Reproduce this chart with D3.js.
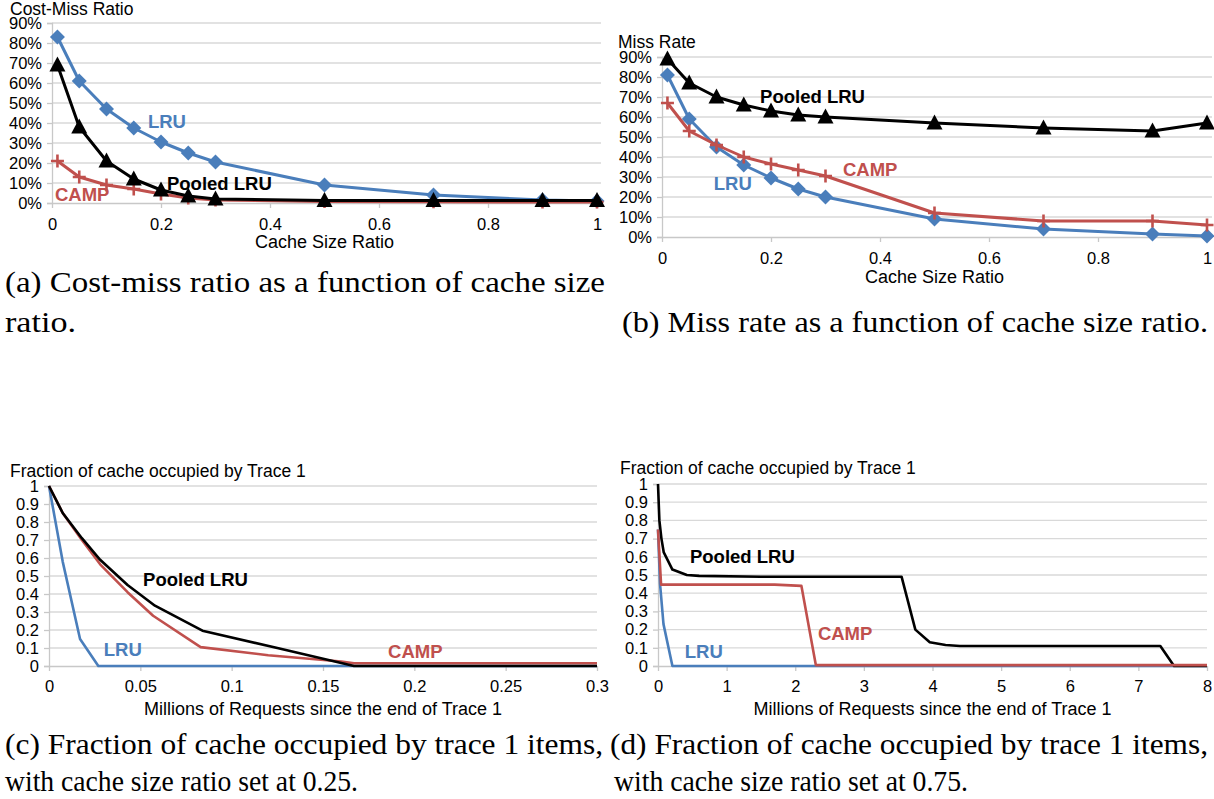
<!DOCTYPE html>
<html>
<head>
<meta charset="utf-8">
<script src="https://cdn.jsdelivr.net/npm/d3@7"></script>
<style>
  body { margin: 0; background: #fff; }
  svg text { font-family: "Liberation Sans", Arial, sans-serif; }
  svg text.cap { font-family: "Liberation Serif", "Times New Roman", serif; font-size: 30px; fill: #000; }
</style>
</head>
<body>
<div id="chart"></div>
<script>
// ---- data ----
var ratioX = [0.01, 0.05, 0.1, 0.15, 0.2, 0.25, 0.3, 0.5, 0.7, 0.9, 1.0];

// (a) cost-miss ratio, %
var costLRU    = [83, 61, 47, 37.5, 30.5, 25, 20.5, 9, 4, 1.5, 1];
var costPooled = [69, 38, 21, 12, 6.5, 3.5, 2, 1.2, 1.2, 1.2, 1.2];
var costCAMP   = [21, 13, 9, 7, 4.5, 2.5, 1.5, 0.8, 0.6, 0.5, 0.5];

// (b) miss rate, %
var missLRU    = [81, 59, 45, 36, 29.5, 24, 20, 9, 4, 1.5, 0.5];
var missPooled = [89, 77, 70, 66, 63, 61, 60, 57, 54.5, 53, 57];
var missCAMP   = [67, 53, 46, 40, 36.5, 33.5, 30.5, 12, 8, 8, 6];

// (c) fraction of cache, cache size ratio 0.25  [millions of requests, fraction]
var fracLRU25    = [[0, 1], [0.0075, 0.58], [0.017, 0.15], [0.027, 0], [0.3, 0]];
var fracPooled25 = [[0, 1], [0.0075, 0.85], [0.018, 0.71], [0.028, 0.59], [0.043, 0.45],
                    [0.058, 0.335], [0.084, 0.196], [0.125, 0.1], [0.167, 0], [0.3, 0]];
var fracCAMP25   = [[0, 1], [0.0075, 0.85], [0.018, 0.7], [0.028, 0.565], [0.043, 0.41],
                    [0.057, 0.279], [0.083, 0.105], [0.12, 0.06], [0.16, 0.025], [0.167, 0.015], [0.3, 0.015]];

// (d) fraction of cache, cache size ratio 0.75
var fracLRU75    = [[0, 0.75], [0.03, 0.45], [0.08, 0.23], [0.21, 0], [8, 0]];
var fracPooled75 = [[0, 1], [0.02, 0.8], [0.05, 0.7], [0.084, 0.624], [0.21, 0.53], [0.42, 0.5],
                    [0.6, 0.495], [1.5, 0.49], [3.55, 0.49], [3.75, 0.2], [3.96, 0.13],
                    [4.19, 0.115], [4.4, 0.11], [7.32, 0.11], [7.52, 0], [8, 0]];
var fracCAMP75   = [[0, 0.75], [0.045, 0.447], [1.7, 0.447], [2.09, 0.44], [2.3, 0.005], [8, 0.005]];

var ratioTicks = [0, 0.2, 0.4, 0.6, 0.8, 1];
var pctTicks   = [0, 10, 20, 30, 40, 50, 60, 70, 80, 90];
var fracTicks  = [0, 0.1, 0.2, 0.3, 0.4, 0.5, 0.6, 0.7, 0.8, 0.9, 1];
var reqTicksC  = [0, 0.05, 0.1, 0.15, 0.2, 0.25, 0.3];
var reqTicksD  = [0, 1, 2, 3, 4, 5, 6, 7, 8];

var BLUE = "#4a7ebb", RED = "#c0504d", BLACK = "#000";

var svg = d3.select("#chart").append("svg")
  .attr("width", 1214).attr("height", 799);

function zip(xs, ys) { return xs.map(function(x, i) { return [x, ys[i]]; }); }

/**
 * Draws one Excel-style line panel
 */
function drawPanel(p) {
  var x = d3.scaleLinear().domain(p.xDomain).range([p.left, p.right]);
  var y = d3.scaleLinear().domain(p.yDomain).range([p.bottom, p.top]);
  var g = svg.append("g");

  // gridlines
  g.selectAll(".grid").data(p.yTicks.slice(1)).enter().append("line")
    .attr("x1", p.left).attr("x2", p.gridRight)
    .attr("y1", function(d) { return y(d); }).attr("y2", function(d) { return y(d); })
    .attr("stroke", "#d9d9d9").attr("stroke-width", 1.3);

  // y axis
  var ya = g.append("g").attr("transform", "translate(" + p.left + ",0)")
    .call(d3.axisLeft(y).tickValues(p.yTicks).tickFormat(p.yFormat).tickSize(5).tickPadding(5));
  // x axis
  var xa = g.append("g").attr("transform", "translate(0," + p.bottom + ")")
    .call(d3.axisBottom(x).tickValues(p.xTicks).tickFormat(p.xFormat).tickSize(5).tickPadding(p.xPad));
  [ya, xa].forEach(function(a) {
    a.select(".domain").attr("stroke", "#c8c8c8").attr("stroke-width", 1.3);
    a.selectAll(".tick line").attr("stroke", "#c8c8c8").attr("stroke-width", 1.3);
    a.selectAll(".tick text").attr("font-size", 16.5).attr("fill", "#000")
      .attr("font-family", "Liberation Sans, Arial, sans-serif");
  });
  xa.select(".domain").attr("d", "M" + p.left + ",0.5H" + p.gridRight);

  // titles
  g.append("text").attr("x", p.titleX).attr("y", p.titleY)
    .attr("font-size", 17.5).text(p.title);
  g.append("text").attr("x", (p.left + p.right) / 2).attr("y", p.xTitleY)
    .attr("text-anchor", "middle").attr("font-size", 18).text(p.xTitle);

  var line = d3.line().x(function(d) { return x(d[0]); }).y(function(d) { return y(d[1]); });

  p.series.forEach(function(s) {
    g.append("path").datum(s.data).attr("d", line)
      .attr("fill", "none").attr("stroke", s.color).attr("stroke-width", p.lineWidth)
      .attr("stroke-linejoin", "round");
    if (!s.marker) return;
    var m = g.selectAll(null).data(s.data).enter().append("g")
      .attr("transform", function(d) { return "translate(" + x(d[0]) + "," + y(d[1]) + ")"; });
    if (s.marker === "diamond") {
      m.append("path").attr("d", "M0,-7.5L7.5,0L0,7.5L-7.5,0Z").attr("fill", s.color);
    } else if (s.marker === "triangle") {
      m.append("path").attr("d", "M0,-8.5L8,6.5L-8,6.5Z").attr("fill", s.color);
    } else if (s.marker === "plus") {
      m.append("path").attr("d", "M-6.5,0H6.5M0,-6.5V6.5")
        .attr("stroke", s.color).attr("stroke-width", 2.6);
    }
  });

  // series labels
  p.labels.forEach(function(l) {
    g.append("text").attr("x", x(l.x)).attr("y", y(l.y)).attr("dy", "0.35em")
      .attr("font-size", 18.5).attr("font-weight", "bold").attr("fill", l.color).text(l.text);
  });
}

var pct = function(d) { return d + "%"; };
var num = function(d) { return String(d); };

drawPanel({
  left: 52, right: 597, gridRight: 601, top: 23, bottom: 203,
  xDomain: [0, 1], yDomain: [0, 90], xTicks: ratioTicks, yTicks: pctTicks,
  xFormat: num, yFormat: pct, xPad: 10, lineWidth: 3,
  title: "Cost-Miss Ratio", titleX: 10, titleY: 15,
  xTitle: "Cache Size Ratio", xTitleY: 248,
  series: [
    { data: zip(ratioX, costLRU), color: BLUE, marker: "diamond" },
    { data: zip(ratioX, costCAMP), color: RED, marker: "plus" },
    { data: zip(ratioX, costPooled), color: BLACK, marker: "triangle" }
  ],
  labels: [
    { text: "LRU", x: 0.176, y: 40.5, color: BLUE },
    { text: "Pooled LRU", x: 0.211, y: 9.5, color: BLACK },
    { text: "CAMP", x: 0.0055, y: 4, color: RED }
  ]
});

drawPanel({
  left: 662, right: 1207, gridRight: 1212, top: 57, bottom: 237,
  xDomain: [0, 1], yDomain: [0, 90], xTicks: ratioTicks, yTicks: pctTicks,
  xFormat: num, yFormat: pct, xPad: 10, lineWidth: 3,
  title: "Miss Rate", titleX: 618, titleY: 48,
  xTitle: "Cache Size Ratio", xTitleY: 283,
  series: [
    { data: zip(ratioX, missLRU), color: BLUE, marker: "diamond" },
    { data: zip(ratioX, missCAMP), color: RED, marker: "plus" },
    { data: zip(ratioX, missPooled), color: BLACK, marker: "triangle" }
  ],
  labels: [
    { text: "Pooled LRU", x: 0.18, y: 70, color: BLACK },
    { text: "CAMP", x: 0.332, y: 33.5, color: RED },
    { text: "LRU", x: 0.095, y: 26.5, color: BLUE }
  ]
});

drawPanel({
  left: 49, right: 597, gridRight: 597, top: 486, bottom: 666,
  xDomain: [0, 0.3], yDomain: [0, 1], xTicks: reqTicksC, yTicks: fracTicks,
  xFormat: num, yFormat: num, xPad: 9, lineWidth: 2.6,
  title: "Fraction of cache occupied by Trace 1", titleX: 10, titleY: 477,
  xTitle: "Millions of Requests since the end of Trace 1", xTitleY: 715,
  series: [
    { data: fracLRU25, color: BLUE },
    { data: fracCAMP25, color: RED },
    { data: fracPooled25, color: BLACK }
  ],
  labels: [
    { text: "Pooled LRU", x: 0.0515, y: 0.478, color: BLACK },
    { text: "LRU", x: 0.030, y: 0.089, color: BLUE },
    { text: "CAMP", x: 0.1856, y: 0.078, color: RED }
  ]
});

drawPanel({
  left: 658, right: 1207, gridRight: 1207, top: 484, bottom: 666,
  xDomain: [0, 8], yDomain: [0, 1], xTicks: reqTicksD, yTicks: fracTicks,
  xFormat: num, yFormat: num, xPad: 9, lineWidth: 2.6,
  title: "Fraction of cache occupied by Trace 1", titleX: 620, titleY: 474,
  xTitle: "Millions of Requests since the end of Trace 1", xTitleY: 715,
  series: [
    { data: fracLRU75, color: BLUE },
    { data: fracPooled75, color: BLACK },
    { data: fracCAMP75, color: RED }
  ],
  labels: [
    { text: "Pooled LRU", x: 0.466, y: 0.6, color: BLACK },
    { text: "CAMP", x: 2.33, y: 0.176, color: RED },
    { text: "LRU", x: 0.39, y: 0.082, color: BLUE }
  ]
});

// ---- sub-figure captions ----
var captions = [
  { text: "(a) Cost-miss ratio as a function of cache size", x: 5, y: 292, w: 600 },
  { text: "ratio.", x: 5, y: 332, w: 71 },
  { text: "(b) Miss rate as a function of cache size ratio.", x: 622, y: 332, w: 586 },
  { text: "(c) Fraction of cache occupied by trace 1 items,", x: 5, y: 754, w: 598 },
  { text: "with cache size ratio set at 0.25.", x: 5, y: 791, w: 353 },
  { text: "(d) Fraction of cache occupied by trace 1 items,", x: 610, y: 754, w: 598 },
  { text: "with cache size ratio set at 0.75.", x: 614, y: 791, w: 354 }
];
svg.selectAll(".cap").data(captions).enter().append("text")
  .attr("class", "cap")
  .attr("x", function(d) { return d.x; }).attr("y", function(d) { return d.y; })
  .attr("textLength", function(d) { return d.w; }).attr("lengthAdjust", "spacingAndGlyphs")
  .text(function(d) { return d.text; });
</script>
</body>
</html>
